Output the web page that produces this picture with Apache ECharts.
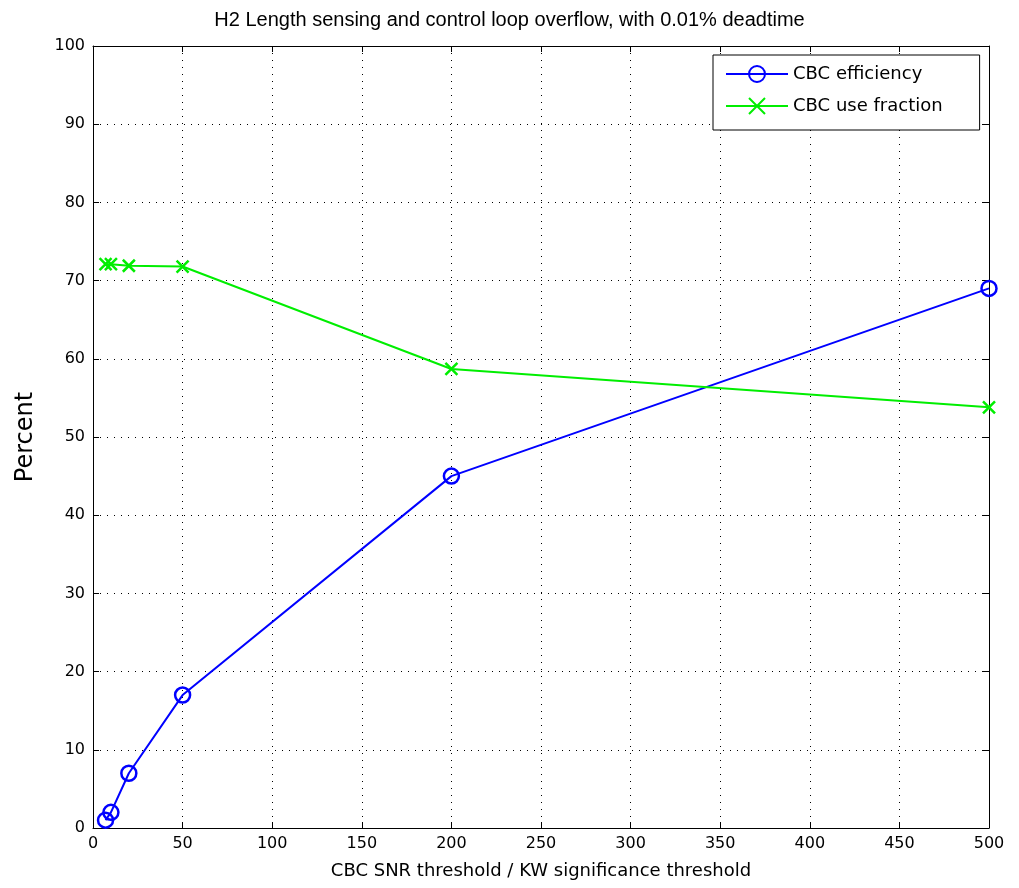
<!DOCTYPE html>
<html><head><meta charset="utf-8">
<script src="https://cdn.jsdelivr.net/npm/echarts@6/dist/echarts.min.js"></script>
<style>html,body{margin:0;padding:0;background:#fff}#c{width:1019px;height:888px}</style>
</head><body><div id="c"></div>
<script>
const thresholds = [7, 10, 20, 50, 200, 500];
const efficiency = [1.0, 2.0, 7.0, 17.0, 45.0, 69.0];
const useFraction = [72.1, 72.1, 71.9, 71.8, 58.7, 53.8];
const xTicks = [0, 50, 100, 150, 200, 250, 300, 350, 400, 450, 500];
const yTicks = [0, 10, 20, 30, 40, 50, 60, 70, 80, 90, 100];

const font = 'DejaVu Sans, Liberation Sans, Arial, sans-serif';
const titleFont = 'Liberation Sans, Arial, sans-serif';
const crossPath = 'path://M0,0 L10,10 M10,0 L0,10';
const chart = echarts.init(document.getElementById('c'), null, {renderer: 'canvas'});
const pair = (xs, ys) => xs.map((x, i) => [x, ys[i]]);
const baseAxis = {
  axisLine: {show: true, onZero: false, lineStyle: {color: '#000', width: 1}},
  axisTick: {show: true, inside: true, length: 6, lineStyle: {color: '#000'}},
  axisLabel: {color: '#000', fontFamily: font, fontSize: 16},
};
chart.setOption({
  animation: false,
  backgroundColor: '#fff',
  title: {text: 'H2 Length sensing and control loop overflow, with 0.01% deadtime', left: 'center', top: 5,
    textStyle: {fontFamily: titleFont, fontSize: 20, fontWeight: 'normal', color: '#000'}},
  grid: {left: 93, right: 30, top: 46, bottom: 60},
  legend: {
    left: 713, top: 55, orient: 'vertical', backgroundColor: '#fff', borderColor: '#000', borderWidth: 1,
    padding: [10, 37, 15, 12], itemGap: 14, itemWidth: 62, itemHeight: 20,
    textStyle: {fontFamily: font, fontSize: 18, color: '#000'},
    data: ['CBC efficiency', 'CBC use fraction']
  },
  xAxis: [
    Object.assign({}, baseAxis, {type: 'value', min: 0, max: 500, interval: 50, position: 'bottom',
      name: 'CBC SNR threshold / KW significance threshold', nameLocation: 'middle', nameGap: 34,
      nameTextStyle: {fontFamily: font, fontSize: 18, color: '#000'},
      splitLine: {show: true, lineStyle: {color: '#000', type: [1, 6], width: 1}}}),
    Object.assign({}, baseAxis, {type: 'value', min: 0, max: 500, interval: 50, position: 'top',
      axisLabel: {show: false}, splitLine: {show: false}})
  ],
  yAxis: [
    Object.assign({}, baseAxis, {type: 'value', min: 0, max: 100, interval: 10, position: 'left',
      name: 'Percent', nameLocation: 'middle', nameGap: 55, nameRotate: 90,
      nameTextStyle: {fontFamily: font, fontSize: 24, color: '#000'},
      splitLine: {show: true, lineStyle: {color: '#000', type: [1, 6], width: 1}}}),
    Object.assign({}, baseAxis, {type: 'value', min: 0, max: 100, interval: 10, position: 'right',
      axisLabel: {show: false}, splitLine: {show: false}})
  ],
  series: [
    {name: 'CBC efficiency', type: 'line', data: pair(thresholds, efficiency),
      color: '#0000ff', lineStyle: {color: '#0000ff', width: 2},
      symbol: 'circle', symbolSize: 15, showAllSymbol: true,
      itemStyle: {color: 'rgba(0,0,0,0)', borderColor: '#0000ff', borderWidth: 2.5}},
    {name: 'CBC use fraction', type: 'line', data: pair(thresholds, useFraction),
      color: '#00ee00', lineStyle: {color: '#00ee00', width: 2},
      symbol: crossPath, symbolSize: 12, showAllSymbol: true,
      itemStyle: {color: '#00ee00', borderColor: '#00ee00', borderWidth: 2.5}}
  ]
});
</script></body></html>
